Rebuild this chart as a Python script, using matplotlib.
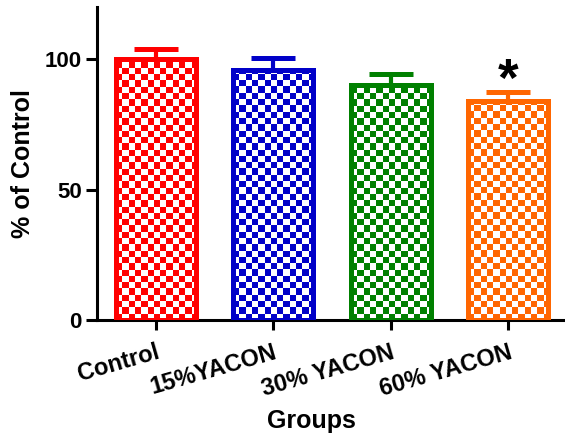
import numpy as np
import matplotlib.pyplot as plt
from matplotlib.colors import to_rgb

groups = ['Control', '15%YACON', '30% YACON', '60% YACON']
means = [100.0, 96.0, 90.0, 84.0]
sems = [3.8, 4.6, 4.4, 3.3]
colors = ['#ff0000', '#0000c8', '#008000', '#ff6600']
signif = ['', '', '', '*']

plt.rcParams['font.family'] = ['Liberation Sans', 'DejaVu Sans']
plt.rcParams['font.weight'] = 'bold'

fig = plt.figure(figsize=(5.65, 4.36), dpi=100)
ax = fig.add_axes([97 / 565, 116 / 436, 470 / 565, 313 / 436])

x = np.arange(len(groups))
xlim = (-0.5, 3.5)
ylim = (0, 120)
width = 0.68
cell_px = 6.3

# size of one checker cell in data units
ax_w_px = fig.get_figwidth() * fig.dpi * ax.get_position().width
ax_h_px = fig.get_figheight() * fig.dpi * ax.get_position().height
dx = cell_px * (xlim[1] - xlim[0]) / ax_w_px
dy = cell_px * (ylim[1] - ylim[0]) / ax_h_px

for xi, m, s, c in zip(x, means, sems, colors):
    ax.errorbar(xi, m, yerr=[[0], [s]], fmt='none', ecolor=c,
                elinewidth=3, capsize=15.5, capthick=3.6, zorder=2)
    bar = ax.bar(xi, m, width=width, color='white', edgecolor=c,
                 linewidth=3.6, zorder=3)[0]
    left = xi - width / 2
    nx = int(np.ceil(width / dx))
    ny = int(np.ceil(m / dy))
    ii, jj = np.meshgrid(np.arange(nx), np.arange(ny))
    mask = (ii + jj) % 2 == 0
    img = np.ones((ny, nx, 3))
    img[mask] = to_rgb(c)
    im = ax.imshow(img, extent=(left, left + nx * dx, 0, ny * dy),
                   origin='lower', interpolation='nearest', aspect='auto',
                   zorder=3.5)
    im.set_clip_path(bar)
    ax.bar(xi, m, width=width, color='none', edgecolor=c,
           linewidth=3.6, zorder=4)

for xi, m, s, t in zip(x, means, sems, signif):
    if t:
        ax.text(xi, m + s - 1.5, t, ha='center', va='baseline',
                fontsize=38, fontweight='bold', zorder=5)

ax.set_xlim(*xlim)
ax.set_ylim(*ylim)
ax.set_yticks([0, 50, 100])
ax.set_xticks(x)
ax.set_xticklabels(groups, rotation=16, ha='right', rotation_mode='anchor')

for side in ['top', 'right']:
    ax.spines[side].set_visible(False)
for side in ['left', 'bottom']:
    ax.spines[side].set_linewidth(2.2)

ax.tick_params(axis='y', length=8, width=2.2, labelsize=16, pad=3)
ax.tick_params(axis='x', length=7, width=2.2, labelsize=17, pad=8)

ax.set_ylabel('% of Control', fontsize=18, fontweight='bold')
ax.yaxis.set_label_coords(-0.132, 0.5)
ax.set_xlabel('Groups', fontsize=18, fontweight='bold')
ax.xaxis.set_label_coords(0.457, -0.285)

fig.savefig('out.png', dpi=100)
